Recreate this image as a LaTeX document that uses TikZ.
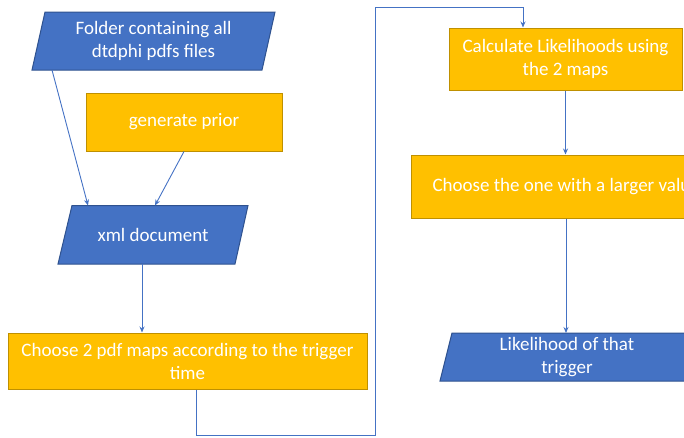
\documentclass[tikz,border=0pt]{standalone}
\usepackage{fontspec}
\setmainfont{Carlito}
\usetikzlibrary{arrows.meta}
\definecolor{bfill}{HTML}{4472C4}
\definecolor{bline}{HTML}{2F528F}
\definecolor{ofill}{HTML}{FFC000}
\definecolor{oline}{HTML}{BF9000}
\begin{document}
\begin{tikzpicture}[x=1pt,y=-1pt,
  txt/.style={text=white, font=\fontsize{19}{23}\selectfont, align=center},
  obox/.style={txt, draw=oline, fill=ofill, line width=1pt, inner sep=0pt},
  para/.style={fill=bfill, draw=bline, line width=1pt},
  arr/.style={draw=bfill, line width=0.9pt, -{Stealth[length=6pt,width=5pt]}}]
\useasboundingbox (0,0) rectangle (684,437);
\clip (0,0) rectangle (684,437);
% Folder
\path[para] (45,12) -- (275,12) -- (262,70) -- (32,70) -- cycle;
\node[txt] (folder) at (153.5,41) {Folder containing all\\dtdphi pdfs files};
\coordinate (folderout) at (52,70);
% prior
\node[obox, minimum width=196pt, minimum height=58pt] (prior) at (184,122) {generate prior};
% xml
\path[para] (72,205.5) -- (248,205.5) -- (235,264) -- (58,264) -- cycle;
\node[txt] (xml) at (153,235) {xml document};
\coordinate (xmlin1) at (88,205.5);
\coordinate (xmlin2) at (155,205.5);
\coordinate (xmlout) at (142,264);
\draw[arr] (folderout) -- (xmlin1);
\draw[arr] (prior.south) -- (xmlin2);
% choose 2
\node[obox, minimum width=359pt, minimum height=56pt] (choose2) at (187.5,361) {Choose 2 pdf maps according to the trigger\\time};
\draw[arr] (xmlout) -- (xmlout |- choose2.north);
% calc
\node[obox, minimum width=233pt, minimum height=62pt] (calc) at (565.5,59) {Calculate Likelihoods using\\the 2 maps};
\draw[arr] ([xshift=8.5pt]choose2.south) -- ++(0,46) -| (375,7) -| ([xshift=-42.5pt]calc.north);
% choose one
\node[obox, anchor=west, inner xsep=21pt, minimum height=63pt] (choose) at (411,186.5) {Choose the one with a larger value};
\draw[arr] (calc.south) -- (calc.south |- choose.north);
% likelihood
\path[para] (452,333) -- (700,333) -- (688,381) -- (440,381) -- cycle;
\node[txt] (lik) at (567,357) {Likelihood of that\\trigger};
\coordinate (likin) at (566,333);
\draw[arr] (choose.south -| likin) -- (likin);
\end{tikzpicture}
\end{document}
